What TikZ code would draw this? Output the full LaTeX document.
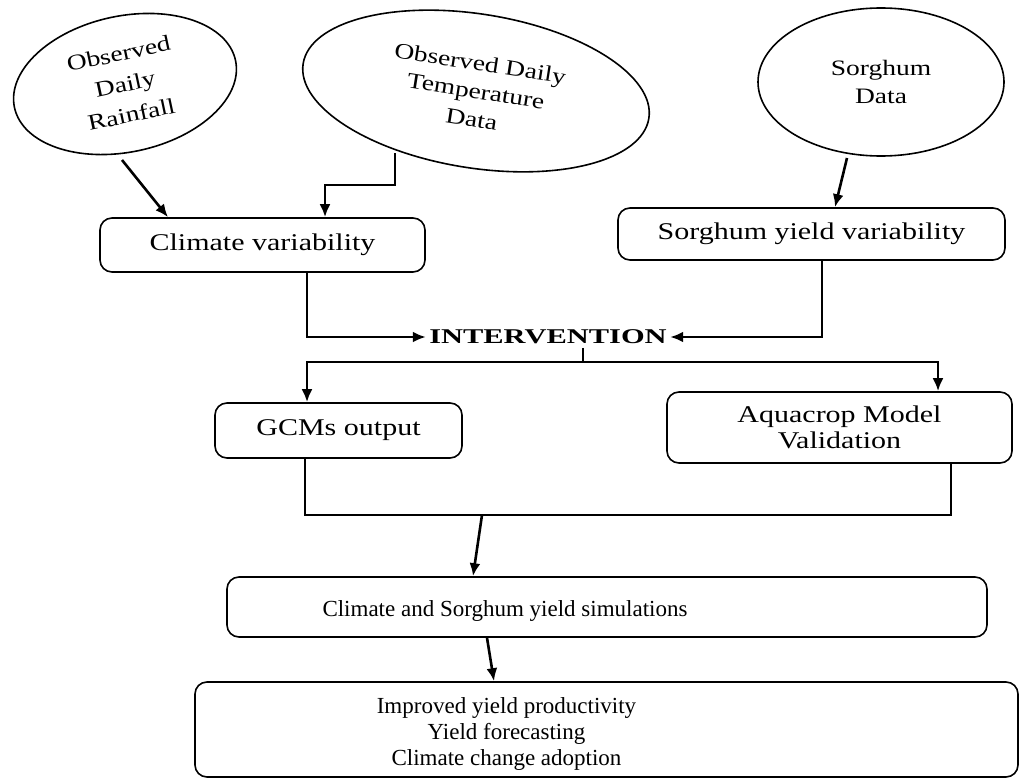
\documentclass[tikz,border=0pt]{standalone}
\usepackage{fontspec}
\setmainfont{Liberation Serif}
\newfontfamily\widefont[FakeStretch=1.25]{Liberation Serif}
\newfontfamily\widerfont[FakeStretch=1.45]{Liberation Serif}
\usetikzlibrary{arrows.meta,shapes.geometric}

\begin{document}
\begin{tikzpicture}[x=1pt,y=-1pt,thick,
    data node/.style={ellipse,draw,line width=1.6pt,inner sep=0pt,align=center,
                      font=\widefont\fontsize{22}{28}\selectfont},
    box node/.style={rectangle,draw,rounded corners=12pt,line width=1.6pt,
                     font=\widefont\fontsize{24}{26}\selectfont},
    flow/.style={line width=2.6pt},
    arr/.style={flow,-{Latex[length=13pt,width=11pt]}}]

  \useasboundingbox (0,0) rectangle (1022,779);

  % data sources
  \node[data node,font=\widefont\fontsize{22}{31}\selectfont,minimum width=226,minimum height=136,rotate=12] (rain) at (125,84) {Observed\\Daily\\Rainfall};
  \node[data node,minimum width=350,minimum height=154,rotate=-9] (temp) at (476,91) {Observed Daily\\Temperature\\Data};
  \node[data node,minimum width=246,minimum height=148] (sorg) at (881,82) {Sorghum\\Data};

  % boxes
  \node[box node,minimum width=325,minimum height=54] (cvar) at (262.5,245) {Climate variability};
  \node[box node,minimum width=387,minimum height=52] (svar) at (811.5,234) {Sorghum yield variability};
  \node[font=\widerfont\bfseries\fontsize{21}{21}\selectfont,inner xsep=3pt] (inter) at (548,337) {INTERVENTION};
  \node[box node,minimum width=247,minimum height=55] (gcm) at (338.5,430.5) {GCMs output};
  \node[box node,align=center,minimum width=345,minimum height=71] (aqua) at (839.5,427.5) {Aquacrop Model\\Validation};
  \node[box node,font=\fontsize{23}{23}\selectfont,minimum width=760,minimum height=60] (sim) at (607,607)
    {\hspace*{-204pt}\raisebox{-4pt}[\height][\depth]{Climate and Sorghum yield simulations}};
  \node[box node,font=\fontsize{23}{26}\selectfont,minimum width=823,minimum height=95] (res) at (606.5,729.5)
    {\hspace*{-200pt}\raisebox{-5pt}[\height][\depth]{\begin{tabular}{@{}c@{}}Improved yield productivity\\Yield forecasting\\Climate change adoption\end{tabular}}};

  \coordinate (rain out) at (122,160);
  \coordinate (temp out) at (395,153);
  \coordinate (sorg out) at (847,158);
  \coordinate (split) at (583,362);
  \coordinate (join) at (482,515);

  % connectors
  \draw[arr] (rain out) -- (cvar.north -| 168,0);
  \draw[arr] (temp out) -- ++(0,32) -| (cvar.north -| 325,0);
  \draw[arr] (sorg out) -- (svar.north -| 835,0);
  \draw[arr] (cvar.south -| 307,0) |- (inter.west);
  \draw[arr] (svar.south -| 822,0) |- (inter.east);
  \draw[flow] (inter.south -| split) -- (split);
  \draw[arr] (split) -| (gcm.north -| 307,0);
  \draw[arr] (split) -| (aqua.north -| 938,0);
  \draw[flow] (gcm.south -| 305,0) |- (join) -| (aqua.south -| 951,0);
  \draw[arr] (join) -- (sim.north -| 473,0);
  \draw[arr] (sim.south -| 487,0) -- (res.north -| 494,0);
\end{tikzpicture}
\end{document}
